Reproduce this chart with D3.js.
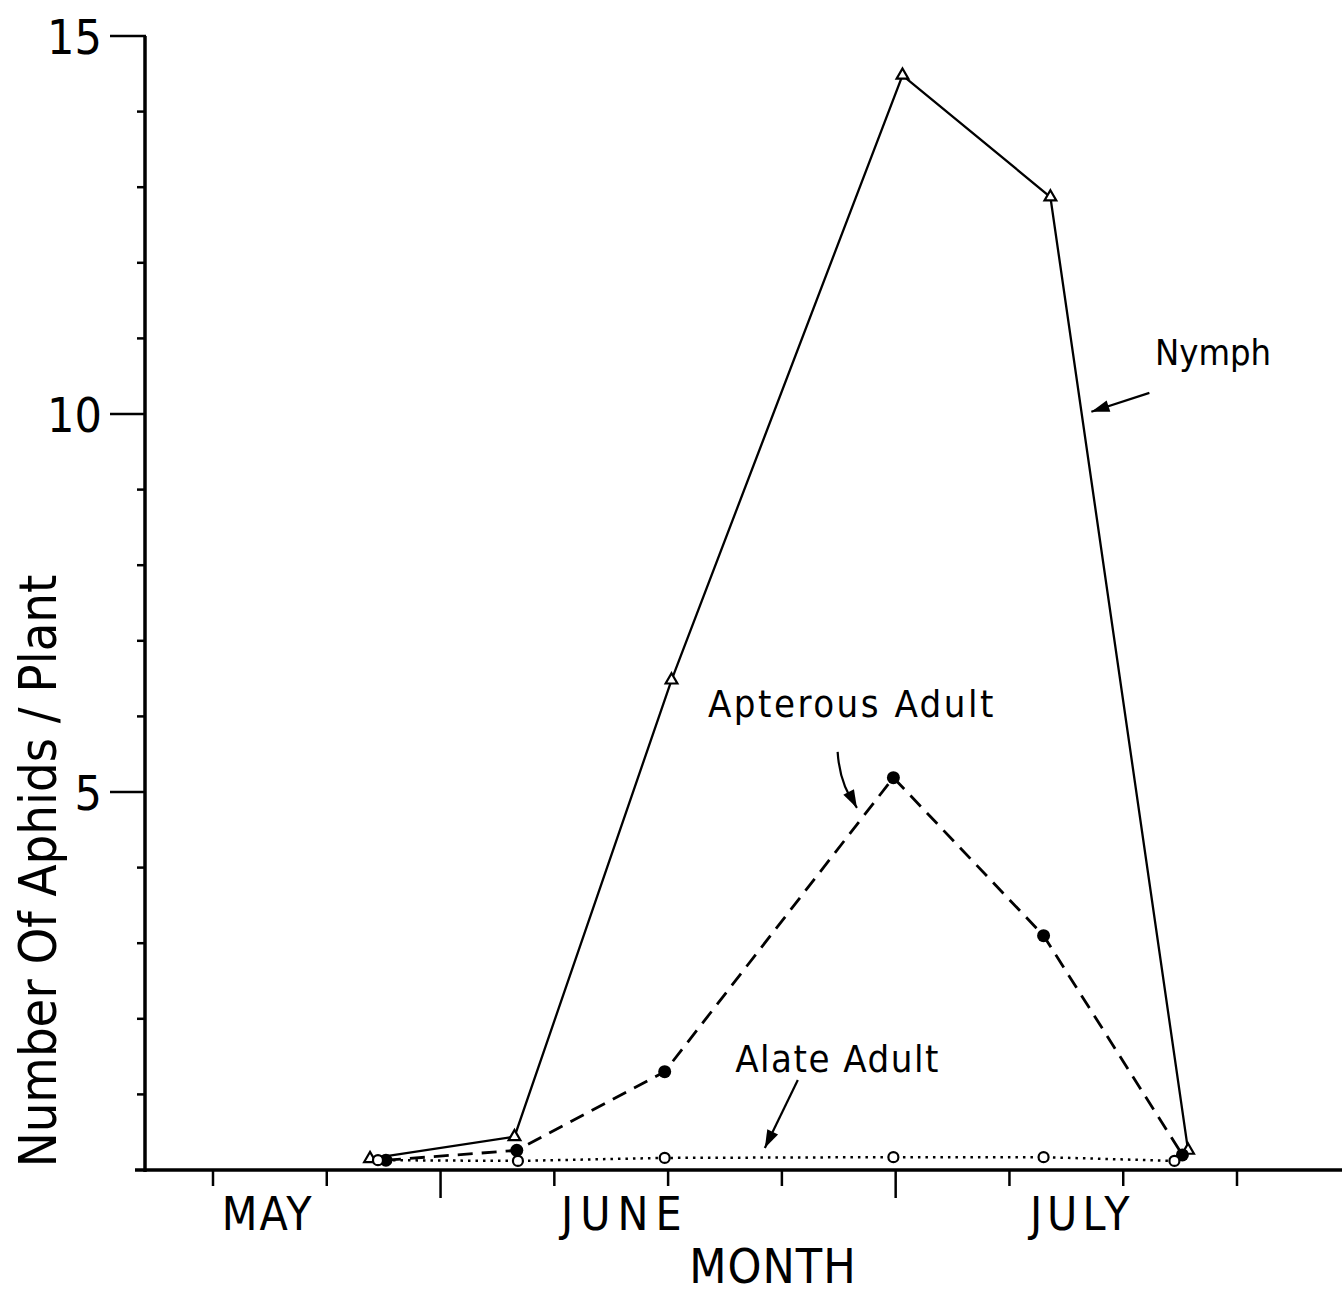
<!DOCTYPE html>
<html><head><meta charset="utf-8">
<script src="https://cdn.jsdelivr.net/npm/d3@7"></script>
<style>
html,body{margin:0;padding:0;background:#fff;}
svg{display:block;}
text{font-family:"DejaVu Sans Condensed","DejaVu Sans",sans-serif;fill:#000;}
</style></head>
<body>
<svg id="chart" width="1342" height="1295"></svg>
<script>
// x positions are in "week tick" units along the month axis
const xTicks = [0,1,2,3,4,5,6,7,8,9];
const longXTicks = [2,6];
const monthLabels = ["MAY","JUNE","JULY"];
const monthPos = [0.48,3.62,7.64];
const monthSpacing = [2,7,5];
const yTicks = [0,1,2,3,4,5,6,7,8,9,10,11,12,13,14,15];
const yMajor = [5,10,15];

const nymphX = [1.38,2.65,4.03,6.06,7.36,8.57];
const nymphY = [0.15,0.44,6.48,14.48,12.87,0.26];
const apterX = [1.52,2.67,3.97,5.98,7.30,8.52];
const apterY = [0.13,0.26,1.30,5.19,3.10,0.20];
const alateX = [1.45,2.68,3.97,5.98,7.30,8.45];
const alateY = [0.13,0.12,0.16,0.17,0.17,0.12];

const svg = d3.select("#chart");
const x = d3.scaleLinear().domain([0,9]).range([213,1237]);
const y = d3.scaleLinear().domain([0,15]).range([1170,36]);
const ink = "#000";

// x axis baseline
svg.append("line").attr("x1",135).attr("x2",1342).attr("y1",y(0)).attr("y2",y(0))
  .attr("stroke",ink).attr("stroke-width",3.5);
// x ticks
svg.selectAll(".xt").data(xTicks).enter().append("line")
  .attr("x1",d=>x(d)).attr("x2",d=>x(d))
  .attr("y1",y(0)).attr("y2",d=>y(0)+(longXTicks.includes(d)?28:16))
  .attr("stroke",ink).attr("stroke-width",2.5);
// month labels
svg.selectAll(".ml").data(monthLabels).enter().append("text")
  .attr("x",(d,i)=>x(monthPos[i])).attr("y",1230)
  .attr("text-anchor","middle").attr("font-size",46)
  .attr("letter-spacing",(d,i)=>monthSpacing[i]).text(d=>d);
svg.append("text").attr("x",773).attr("y",1283).attr("text-anchor","middle")
  .attr("font-size",48).attr("letter-spacing",1).text("MONTH");

// y axis
svg.append("line").attr("x1",145).attr("x2",145).attr("y1",y(15)).attr("y2",y(0)+2)
  .attr("stroke",ink).attr("stroke-width",3.5);
svg.selectAll(".yt").data(yTicks.filter(d=>d>0)).enter().append("line")
  .attr("x1",d=>yMajor.includes(d)?110:137).attr("x2",146)
  .attr("y1",d=>y(d)).attr("y2",d=>y(d))
  .attr("stroke",ink).attr("stroke-width",2.5);
svg.selectAll(".yl").data(yMajor).enter().append("text")
  .attr("x",102).attr("y",d=>y(d)+18).attr("text-anchor","end")
  .attr("font-size",48).text(d=>d);
svg.append("text").attr("transform","translate(56,"+871+") rotate(-90)")
  .attr("text-anchor","middle").attr("font-size",52)
  .text("Number Of Aphids / Plant");

// lines
const line = d3.line().x(d=>x(d[0])).y(d=>y(d[1]));
const nymph = nymphX.map((v,i)=>[v,nymphY[i]]);
const apter = apterX.map((v,i)=>[v,apterY[i]]);
const alate = alateX.map((v,i)=>[v,alateY[i]]);

svg.append("path").datum(alate).attr("d",line).attr("fill","none")
  .attr("stroke",ink).attr("stroke-width",2.5).attr("stroke-dasharray","2.5,5");
svg.append("path").datum(apter).attr("d",line).attr("fill","none")
  .attr("stroke",ink).attr("stroke-width",2.8).attr("stroke-dasharray","15,9");
svg.append("path").datum(nymph).attr("d",line).attr("fill","none")
  .attr("stroke",ink).attr("stroke-width",2.3);

// markers
const tri = d3.symbol().type(d3.symbolTriangle).size(60);
svg.selectAll(".tri").data(nymph).enter().append("path")
  .attr("d",tri).attr("transform",d=>`translate(${x(d[0])},${y(d[1])})`)
  .attr("fill","#fff").attr("stroke",ink).attr("stroke-width",2.2);
svg.selectAll(".ap").data(apter).enter().append("circle")
  .attr("cx",d=>x(d[0])).attr("cy",d=>y(d[1])).attr("r",6.5)
  .attr("fill",ink);
svg.selectAll(".al").data(alate).enter().append("circle")
  .attr("cx",d=>x(d[0])).attr("cy",d=>y(d[1])).attr("r",5)
  .attr("fill","#fff").attr("stroke",ink).attr("stroke-width",2.2);

// annotations (data units)
const annoText = ["Nymph","Apterous Adult","Alate Adult"];
const annoTX = [8.28,4.35,4.59];
const annoTY = [10.65,5.99,1.30];
const annoSize = [36,38,38];
const annoSpacing = [0,2.5,1.5];
svg.selectAll(".an").data(annoText).enter().append("text")
  .attr("x",(d,i)=>x(annoTX[i])).attr("y",(d,i)=>y(annoTY[i]))
  .attr("font-size",(d,i)=>annoSize[i]).attr("letter-spacing",(d,i)=>annoSpacing[i])
  .text(d=>d);

const arrFromX = [8.23,5.49,5.14];
const arrFromY = [10.28,5.53,1.19];
const arrToX = [7.72,5.66,4.85];
const arrToY = [10.03,4.79,0.29];
arrFromX.forEach((fx,i)=>{
  const x1=x(fx), y1=y(arrFromY[i]), x2=x(arrToX[i]), y2=y(arrToY[i]);
  let path;
  if(i===1){
    path = `M${x1},${y1} Q${x1+2},${(y1+y2)/2+5} ${x2},${y2}`;
  } else path = `M${x1},${y1} L${x2},${y2}`;
  svg.append("path").attr("d",path).attr("fill","none").attr("stroke",ink).attr("stroke-width",2.2);
  const ang = Math.atan2(y2-y1, x2-x1) + (i===1?-0.15:0);
  const L=18, W=6;
  const bx = x2-L*Math.cos(ang), by = y2-L*Math.sin(ang);
  const px=-Math.sin(ang)*W, py=Math.cos(ang)*W;
  svg.append("path").attr("d",`M${x2},${y2} L${bx+px},${by+py} L${bx-px},${by-py} Z`).attr("fill",ink);
});
</script>
</body></html>
